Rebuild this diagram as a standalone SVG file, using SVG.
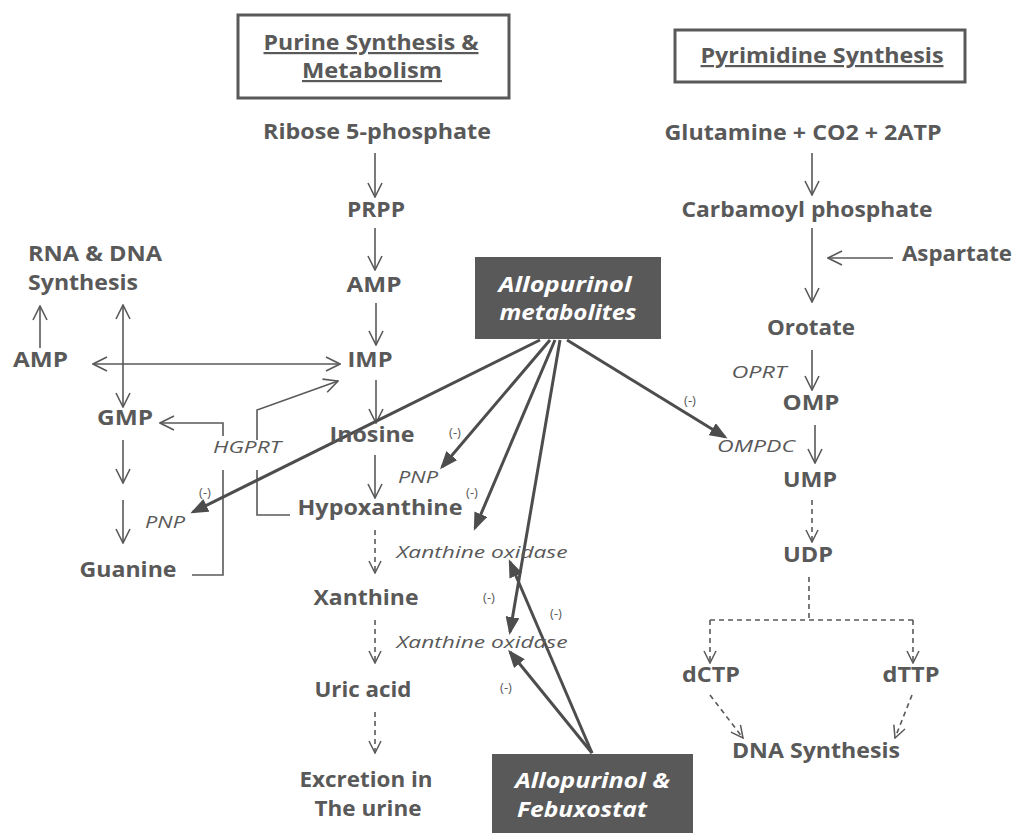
<svg xmlns="http://www.w3.org/2000/svg" width="1015" height="833" viewBox="0 0 1015 833">
<defs>
<marker id="open" viewBox="0 0 16 16" refX="15" refY="8" markerWidth="16" markerHeight="16" markerUnits="userSpaceOnUse" orient="auto-start-reverse">
<path d="M1,1 L15,8 L1,15" fill="none" stroke="#595959" stroke-width="1.6"/>
</marker>
<marker id="openS" viewBox="0 0 14 14" refX="13" refY="7" markerWidth="14" markerHeight="14" markerUnits="userSpaceOnUse" orient="auto">
<path d="M1,1 L13,7 L1,13" fill="none" stroke="#595959" stroke-width="1.5"/>
</marker>
<marker id="fill" viewBox="0 0 18 14" refX="15" refY="7" markerWidth="18" markerHeight="14" markerUnits="userSpaceOnUse" orient="auto">
<path d="M0,0 L18,7 L0,14 Z" fill="#4d4d4d"/>
</marker>
</defs>
<style>
.b{font-family:"Open Sans","Liberation Sans",sans-serif;font-weight:bold;font-size:21px;fill:#595959;text-anchor:middle}
.i{font-family:"Open Sans","Liberation Sans",sans-serif;font-style:italic;font-size:17px;fill:#595959;text-anchor:middle}
.m{font-family:"Open Sans","Liberation Sans",sans-serif;font-size:13px;fill:#595959;text-anchor:middle}
.h{font-family:"Open Sans","Liberation Sans",sans-serif;font-weight:bold;font-size:22px;fill:#595959;text-anchor:middle;text-decoration:underline}
.w{font-family:"Open Sans","Liberation Sans",sans-serif;font-weight:bold;font-style:italic;font-size:21px;fill:#ffffff}
.t{fill:none;stroke:#595959;stroke-width:1.6}
.ta{fill:none;stroke:#595959;stroke-width:1.6;marker-end:url(#open)}
.tb{fill:none;stroke:#595959;stroke-width:1.6;marker-start:url(#open);marker-end:url(#open)}
.d{fill:none;stroke:#595959;stroke-width:1.6;stroke-dasharray:5 4}
.da{fill:none;stroke:#595959;stroke-width:1.6;stroke-dasharray:5 4;marker-end:url(#openS)}
.k{fill:none;stroke:#4d4d4d;stroke-width:3;marker-end:url(#fill)}
.box{fill:#ffffff;stroke:#595959;stroke-width:3}
.dark{fill:#595959}
</style>
<rect width="1015" height="833" fill="#ffffff"/>

<g id="title-purine">
<rect class="box" x="238" y="15" width="271" height="83"/>
<text class="h" x="371" y="50" textLength="215" lengthAdjust="spacingAndGlyphs">Purine Synthesis &amp;</text>
<text class="h" x="372" y="78" textLength="140" lengthAdjust="spacingAndGlyphs">Metabolism</text>
</g>
<g id="title-pyrimidine">
<rect class="box" x="675" y="30" width="290" height="52"/>
<text class="h" x="822" y="63" textLength="243" lengthAdjust="spacingAndGlyphs">Pyrimidine Synthesis</text>
</g>

<g id="connectors">
<line class="ta" x1="375" y1="153" x2="375" y2="197"/>
<line class="ta" x1="375" y1="228" x2="375" y2="270"/>
<line class="ta" x1="376" y1="303" x2="376" y2="345"/>
<line class="ta" x1="376" y1="380" x2="376" y2="423"/>
<line class="ta" x1="375" y1="455" x2="375" y2="498"/>
<line class="ta" x1="40" y1="348" x2="40" y2="306"/>
<line class="tb" x1="123" y1="305" x2="123" y2="407"/>
<line class="tb" x1="93" y1="364" x2="340" y2="364"/>
<line class="ta" x1="123" y1="440" x2="123" y2="483"/>
<line class="ta" x1="123" y1="500" x2="123" y2="543"/>
<path class="t" d="M192,575 H223 V470"/>
<path class="ta" d="M223,436 V423 H160"/>
<path class="t" d="M290,515 H257 V470"/>
<path class="ta" d="M257,440 V410 L338,381"/>
<line class="ta" x1="812" y1="153" x2="812" y2="195"/>
<line class="ta" x1="812" y1="228" x2="812" y2="302"/>
<line class="ta" x1="893" y1="258" x2="828" y2="258"/>
<line class="ta" x1="812" y1="350" x2="812" y2="390"/>
<line class="ta" x1="815" y1="425" x2="815" y2="463"/>
<line class="da" x1="375" y1="530" x2="375" y2="573"/>
<line class="da" x1="375" y1="620" x2="375" y2="663"/>
<line class="da" x1="375" y1="712" x2="375" y2="753"/>
<line class="da" x1="812" y1="500" x2="812" y2="542"/>
<path class="d" d="M809,577 V620"/>
<path class="d" d="M710,620 H913"/>
<line class="da" x1="710" y1="620" x2="710" y2="663"/>
<line class="da" x1="913" y1="620" x2="913" y2="663"/>
<line class="da" x1="710" y1="695" x2="743" y2="738"/>
<line class="da" x1="912" y1="695" x2="895" y2="738"/>
<line class="k" x1="540" y1="340" x2="193" y2="512"/>
<line class="k" x1="550" y1="340" x2="442" y2="467"/>
<line class="k" x1="555" y1="340" x2="475" y2="528"/>
<line class="k" x1="560" y1="340" x2="510" y2="632"/>
<line class="k" x1="567" y1="340" x2="725" y2="437"/>
<line class="k" x1="592" y1="753" x2="510" y2="652"/>
<line class="k" x1="592" y1="753" x2="510" y2="562"/>
</g>

<g id="n-ribose"><text class="b" x="377" y="139" textLength="228" lengthAdjust="spacingAndGlyphs">Ribose 5-phosphate</text></g>
<g id="n-prpp"><text class="b" x="376" y="217" textLength="58" lengthAdjust="spacingAndGlyphs">PRPP</text></g>
<g id="n-amp"><text class="b" x="374" y="292" textLength="55" lengthAdjust="spacingAndGlyphs">AMP</text></g>
<g id="n-imp"><text class="b" x="370" y="367" textLength="45" lengthAdjust="spacingAndGlyphs">IMP</text></g>
<g id="n-inosine"><text class="b" x="372" y="442" textLength="85" lengthAdjust="spacingAndGlyphs">Inosine</text></g>
<g id="n-hypoxanthine"><text class="b" x="380" y="515" textLength="165" lengthAdjust="spacingAndGlyphs">Hypoxanthine</text></g>
<g id="n-xanthine"><text class="b" x="366" y="605" textLength="105" lengthAdjust="spacingAndGlyphs">Xanthine</text></g>
<g id="n-uric"><text class="b" x="363" y="697" textLength="97" lengthAdjust="spacingAndGlyphs">Uric acid</text></g>
<g id="n-excretion">
<text class="b" x="366" y="787" textLength="133" lengthAdjust="spacingAndGlyphs">Excretion in</text>
<text class="b" x="368" y="816" textLength="107" lengthAdjust="spacingAndGlyphs">The urine</text>
</g>
<g id="n-rnadna">
<text class="b" x="28" y="261" style="text-anchor:start" textLength="134" lengthAdjust="spacingAndGlyphs">RNA &amp; DNA</text>
<text class="b" x="28" y="290" style="text-anchor:start" textLength="110" lengthAdjust="spacingAndGlyphs">Synthesis</text>
</g>
<g id="n-amp-left"><text class="b" x="40.5" y="367" textLength="55" lengthAdjust="spacingAndGlyphs">AMP</text></g>
<g id="n-gmp"><text class="b" x="125" y="425" textLength="56" lengthAdjust="spacingAndGlyphs">GMP</text></g>
<g id="n-guanine"><text class="b" x="128" y="577" textLength="97" lengthAdjust="spacingAndGlyphs">Guanine</text></g>
<g id="n-glutamine"><text class="b" x="803" y="140" textLength="277" lengthAdjust="spacingAndGlyphs">Glutamine + CO2 + 2ATP</text></g>
<g id="n-carbamoyl"><text class="b" x="807" y="217" textLength="251" lengthAdjust="spacingAndGlyphs">Carbamoyl phosphate</text></g>
<g id="n-aspartate"><text class="b" x="957" y="261" textLength="110" lengthAdjust="spacingAndGlyphs">Aspartate</text></g>
<g id="n-orotate"><text class="b" x="811" y="335" textLength="88" lengthAdjust="spacingAndGlyphs">Orotate</text></g>
<g id="n-omp"><text class="b" x="811" y="410" textLength="57" lengthAdjust="spacingAndGlyphs">OMP</text></g>
<g id="n-ump"><text class="b" x="810" y="487" textLength="54" lengthAdjust="spacingAndGlyphs">UMP</text></g>
<g id="n-udp"><text class="b" x="808" y="562" textLength="50" lengthAdjust="spacingAndGlyphs">UDP</text></g>
<g id="n-dctp"><text class="b" x="711" y="682" textLength="58" lengthAdjust="spacingAndGlyphs">dCTP</text></g>
<g id="n-dttp"><text class="b" x="911" y="682" textLength="57" lengthAdjust="spacingAndGlyphs">dTTP</text></g>
<g id="n-dna"><text class="b" x="816" y="758" textLength="168" lengthAdjust="spacingAndGlyphs">DNA Synthesis</text></g>

<g id="enzymes">
<text class="i" x="247" y="453" textLength="68" lengthAdjust="spacingAndGlyphs">HGPRT</text>
<text class="i" x="165" y="528" textLength="40" lengthAdjust="spacingAndGlyphs">PNP</text>
<text class="i" x="418" y="483" textLength="40" lengthAdjust="spacingAndGlyphs">PNP</text>
<text class="i" x="482" y="558" textLength="171" lengthAdjust="spacingAndGlyphs">Xanthine oxidase</text>
<text class="i" x="482" y="648" textLength="171" lengthAdjust="spacingAndGlyphs">Xanthine oxidase</text>
<text class="i" x="759" y="378" textLength="55" lengthAdjust="spacingAndGlyphs">OPRT</text>
<text class="i" x="756" y="452" textLength="78" lengthAdjust="spacingAndGlyphs">OMPDC</text>
</g>

<g id="inhibition-labels">
<text class="m" x="205" y="497">(-)</text>
<text class="m" x="455" y="437">(-)</text>
<text class="m" x="472" y="497">(-)</text>
<text class="m" x="489" y="602">(-)</text>
<text class="m" x="690" y="405">(-)</text>
<text class="m" x="506" y="692">(-)</text>
<text class="m" x="556" y="618">(-)</text>
</g>

<g id="n-allopurinol-metabolites">
<rect class="dark" x="475" y="257" width="186" height="82"/>
<text class="w" x="565" y="292" style="text-anchor:middle" textLength="133" lengthAdjust="spacingAndGlyphs">Allopurinol</text>
<text class="w" x="568" y="320" style="text-anchor:middle" textLength="137" lengthAdjust="spacingAndGlyphs">metabolites</text>
</g>
<g id="n-allopurinol-febuxostat">
<rect class="dark" x="492" y="754" width="201" height="90"/>
<text class="w" x="515" y="788" textLength="155" lengthAdjust="spacingAndGlyphs">Allopurinol &amp;</text>
<text class="w" x="517" y="817" textLength="130" lengthAdjust="spacingAndGlyphs">Febuxostat</text>
</g>
</svg>
